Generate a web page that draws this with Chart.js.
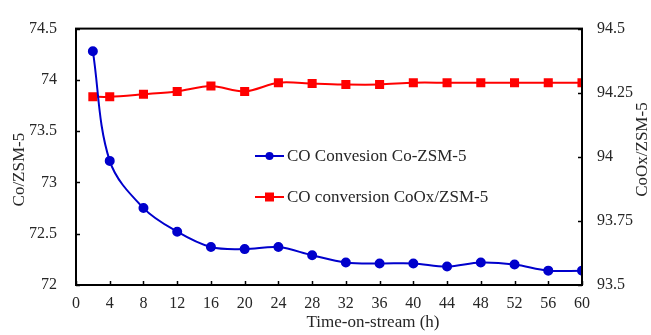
<!DOCTYPE html>
<html>
<head>
<meta charset="utf-8">
<script src="https://cdn.jsdelivr.net/npm/chart.js@4"></script>
<style>
  html, body { margin: 0; padding: 0; background: #fff; }
  #wrap { width: 651px; height: 335px; }
</style>
</head>
<body>
<div id="wrap"><canvas id="chart" width="651" height="335"></canvas></div>
<script>
// time on stream (h)
const hours = [2, 4, 8, 12, 16, 20, 24, 28, 32, 36, 40, 44, 48, 52, 56, 60];
// CO conversion, Co-ZSM-5 (left axis)
const coZsm = [74.28, 73.21, 72.75, 72.52, 72.37, 72.35, 72.37, 72.29, 72.22, 72.21, 72.21, 72.18, 72.22, 72.20, 72.14, 72.14];
// CO conversion, CoOx/ZSM-5 (right axis)
const coOxZsm = [94.234, 94.234, 94.244, 94.255, 94.276, 94.255, 94.289, 94.286, 94.282, 94.282, 94.289, 94.289, 94.289, 94.289, 94.289, 94.289];

const labelBlue = 'CO Convesion Co-ZSM-5';
const labelRed = 'CO conversion CoOx/ZSM-5';
const xTitle = 'Time-on-stream (h)';
const yLeftTitle = 'Co/ZSM-5';
const yRightTitle = 'CoOx/ZSM-5';

const serif = '"Liberation Serif", "Times New Roman", serif';
const textColor = '#262626';

function toPoints(xs, ys) {
  return xs.map((x, i) => ({ x: x, y: ys[i] }));
}

// plain number labels, no trailing zeros (74, 73.5, 94.25 ...)
function plainLabel(v) {
  return String(Math.round(v * 100) / 100);
}

// frame, inward tick marks, axis titles and the in-plot legend
const decorations = {
  id: 'decorations',
  afterDraw(chart) {
    const ctx = chart.ctx;
    const a = chart.chartArea;
    ctx.save();
    ctx.strokeStyle = '#000';
    ctx.lineWidth = 2;
    ctx.strokeRect(a.left, a.top, a.right - a.left, a.bottom - a.top);

    ctx.lineWidth = 1.5;
    const tl = 4;
    const xs = chart.scales.x;
    xs.ticks.forEach((t) => {
      const px = Math.round(xs.getPixelForValue(t.value)) + 0.5;
      ctx.beginPath(); ctx.moveTo(px, a.bottom); ctx.lineTo(px, a.bottom - tl); ctx.stroke();
    });
    const yl = chart.scales.y;
    yl.ticks.forEach((t) => {
      const py = Math.round(yl.getPixelForValue(t.value)) + 0.5;
      ctx.beginPath(); ctx.moveTo(a.left, py); ctx.lineTo(a.left + tl, py); ctx.stroke();
    });
    const yr = chart.scales.y1;
    yr.ticks.forEach((t) => {
      const py = Math.round(yr.getPixelForValue(t.value)) + 0.5;
      ctx.beginPath(); ctx.moveTo(a.right, py); ctx.lineTo(a.right - tl, py); ctx.stroke();
    });

    // axis titles
    ctx.fillStyle = textColor;
    ctx.font = '17px ' + serif;
    ctx.textAlign = 'center';
    ctx.textBaseline = 'middle';
    ctx.fillText(xTitle, a.left + 297, a.bottom + 38);
    ctx.save();
    ctx.translate(20, a.top + 141);
    ctx.rotate(-Math.PI / 2);
    ctx.fillText(yLeftTitle, 0, 0);
    ctx.restore();
    ctx.save();
    ctx.translate(643, a.top + 121);
    ctx.rotate(-Math.PI / 2);
    ctx.fillText(yRightTitle, 0, 0);
    ctx.restore();

    // legend inside the plot
    ctx.font = '17px ' + serif;
    ctx.textAlign = 'left';
    const rows = [
      { ds: chart.data.datasets[0], y: 156 },
      { ds: chart.data.datasets[1], y: 197 }
    ];
    rows.forEach((r) => {
      ctx.strokeStyle = r.ds.borderColor;
      ctx.lineWidth = 2;
      ctx.beginPath(); ctx.moveTo(255, r.y); ctx.lineTo(284, r.y); ctx.stroke();
      ctx.fillStyle = r.ds.pointBackgroundColor;
      if (r.ds.pointStyle === 'rect') {
        ctx.fillRect(265, r.y - 4.5, 9, 9);
      } else {
        ctx.beginPath(); ctx.arc(269.5, r.y, 4, 0, Math.PI * 2); ctx.fill();
      }
      ctx.fillStyle = textColor;
      ctx.fillText(r.ds.label, 287, r.y + 1);
    });
    ctx.restore();
  }
};

const chart = new Chart(document.getElementById('chart'), {
  type: 'line',
  data: {
    datasets: [
      {
        label: labelBlue,
        data: toPoints(hours, coZsm),
        yAxisID: 'y',
        borderColor: '#0000CC',
        backgroundColor: '#0000CC',
        pointBackgroundColor: '#0000CC',
        pointBorderColor: '#0000CC',
        pointStyle: 'circle',
        pointRadius: 4,
        borderWidth: 2,
        tension: 0.35
      },
      {
        label: labelRed,
        data: toPoints(hours, coOxZsm),
        yAxisID: 'y1',
        borderColor: '#FF0000',
        backgroundColor: '#FF0000',
        pointBackgroundColor: '#FF0000',
        pointBorderColor: '#FF0000',
        pointStyle: 'rect',
        pointRadius: 5,
        borderWidth: 2,
        tension: 0.3
      }
    ]
  },
  options: {
    responsive: false,
    animation: false,
    layout: { padding: { top: 23, left: 0, right: 0, bottom: 0 } },
    plugins: {
      legend: { display: false },
      tooltip: { enabled: false }
    },
    scales: {
      x: {
        type: 'linear',
        min: 0,
        max: 60,
        grid: { display: false, drawTicks: false },
        border: { display: false },
        ticks: { stepSize: 4, padding: 9, color: textColor, font: { family: serif, size: 16 } },
        afterFit(s) { s.height = 50; }
      },
      y: {
        position: 'left',
        min: 72,
        max: 74.5,
        grid: { display: false, drawTicks: false },
        border: { display: false },
        ticks: { stepSize: 0.5, padding: 19, color: textColor, font: { family: serif, size: 16 },
          callback: plainLabel },
        afterFit(s) { s.width = 76; }
      },
      y1: {
        position: 'right',
        min: 93.5,
        max: 94.5,
        grid: { display: false, drawTicks: false },
        border: { display: false },
        ticks: { stepSize: 0.25, padding: 15, color: textColor, font: { family: serif, size: 16 },
          callback: plainLabel },
        afterFit(s) { s.width = 69; }
      }
    }
  },
  plugins: [decorations]
});
</script>
</body>
</html>
